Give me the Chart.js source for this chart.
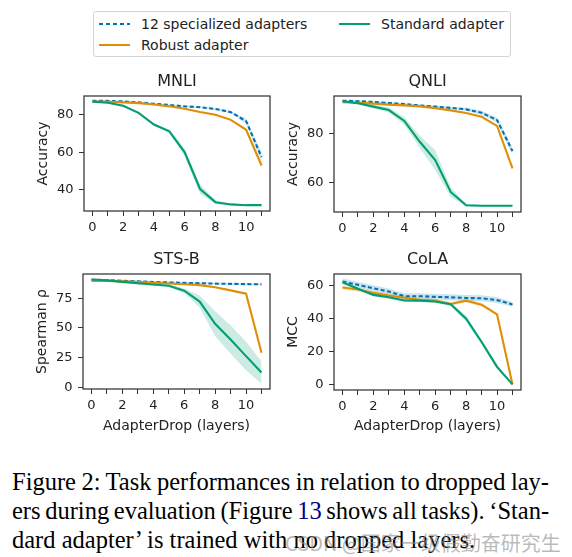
<!DOCTYPE html>
<html>
<head>
<meta charset="utf-8">
<script src="https://cdn.jsdelivr.net/npm/chart.js@4.4.1/dist/chart.umd.min.js"></script>
<style>
body { margin: 0; background: #fff; width: 572px; height: 557px; overflow: hidden; position: relative; font-family: "DejaVu Sans", sans-serif; }
canvas { position: absolute; }
#legend { position: absolute; left: 93px; top: 11px; width: 416px; height: 44px; border: 1px solid #d4d4d4; border-radius: 3px; font-size: 14px; color: #222; }
.item { position: absolute; height: 20px; line-height: 20px; width: 200px; }
.item .h { position: absolute; left: 0; top: 9px; width: 31px; height: 2px; }
.item span { position: absolute; left: 42px; white-space: nowrap; }
#caption { position: absolute; left: 12px; top: 467px; width: 537px; font-family: "Liberation Serif", "Times New Roman", serif; font-size: 24.5px; line-height: 29px; color: #000; }
#caption div { white-space: nowrap; }
.j { text-align: justify; text-align-last: justify; word-spacing: -1.5px; }
#wm { position: absolute; left: 285px; top: 528px; font-family: "Noto Sans CJK SC", sans-serif; font-size: 20px; color: rgba(140, 140, 140, 0.6); white-space: nowrap; }
</style>
</head>
<body>
<div id="legend"></div>
<canvas id="mnli"></canvas>
<canvas id="qnli"></canvas>
<canvas id="stsb"></canvas>
<canvas id="cola"></canvas>
<div id="caption">
  <div class="j">Figure 2: Task performances in relation to dropped lay-</div>
  <div class="j">ers during evaluation (Figure <span style="color:#00008b">13</span> shows all tasks). ‘Stan-</div>
  <div>dard adapter’ is trained with no dropped layers.</div>
</div>
<div id="wm">CSDN @国家一级假勤奋研究生</div>
<script>
// x axis: number of dropped adapter layers
const layers = [0, 1, 2, 3, 4, 5, 6, 7, 8, 9, 10, 11];
const seriesNames = ['12 specialized adapters', 'Robust adapter', 'Standard adapter'];

// MNLI (accuracy)
const mnliSpecialized = [87.5, 87.4, 87.1, 86.6, 85.9, 85.2, 84.5, 84.0, 83.1, 81.4, 76.6, 57.5];
const mnliRobust      = [87.0, 86.9, 86.6, 86.2, 85.5, 84.5, 83.2, 81.5, 80.0, 77.3, 72.0, 53.0];
const mnliStandard    = [87.0, 86.4, 84.8, 81.0, 74.8, 71.2, 60.0, 40.5, 33.5, 32.3, 31.9, 31.9];
const mnliSpecializedSpread = [0.3, 0.3, 0.3, 0.3, 0.3, 0.3, 0.4, 0.4, 0.5, 0.6, 1.2, 2.5];
const mnliRobustSpread      = [0.2, 0.2, 0.2, 0.2, 0.2, 0.2, 0.2, 0.3, 0.3, 0.3, 0.4, 0.5];
const mnliStandardSpread    = [0.3, 0.3, 0.5, 0.5, 0.5, 0.8, 2.0, 2.5, 1.0, 0.5, 0.3, 0.3];

// QNLI (accuracy)
const qnliSpecialized = [93.2, 93.0, 92.7, 92.3, 91.8, 91.3, 90.8, 90.3, 89.7, 88.3, 85.4, 72.8];
const qnliRobust      = [92.6, 92.4, 92.0, 91.6, 91.3, 90.9, 90.2, 89.3, 88.2, 86.7, 83.0, 65.8];
const qnliStandard    = [93.0, 92.2, 90.8, 89.4, 85.0, 76.6, 69.2, 56.3, 50.9, 50.7, 50.7, 50.7];
const qnliSpecializedSpread = [0.3, 0.3, 0.3, 0.3, 0.4, 0.4, 0.5, 0.5, 0.6, 0.8, 1.0, 1.5];
const qnliRobustSpread      = [0.2, 0.2, 0.2, 0.2, 0.2, 0.3, 0.3, 0.3, 0.3, 0.3, 0.4, 0.5];
const qnliStandardSpread    = [0.3, 0.5, 0.8, 1.0, 1.5, 2.5, 4.0, 2.0, 0.5, 0.3, 0.3, 0.3];

// STS-B (Spearman rho)
const stsbSpecialized = [90.6, 90.2, 89.7, 89.2, 88.7, 88.3, 87.9, 87.6, 87.3, 87.1, 86.9, 86.7];
const stsbRobust      = [89.6, 89.5, 89.2, 88.6, 88.0, 87.4, 86.8, 86.0, 84.2, 81.6, 78.8, 29.2];
const stsbStandard    = [90.8, 90.0, 88.8, 87.6, 86.6, 85.5, 81.3, 72.2, 53.5, 40.3, 26.3, 12.5];
const stsbSpecializedSpread = [0.8, 0.8, 0.8, 0.8, 0.8, 0.8, 0.8, 0.8, 0.8, 0.8, 0.8, 0.8];
const stsbRobustSpread      = [0.4, 0.4, 0.4, 0.4, 0.4, 0.4, 0.5, 0.5, 0.6, 0.6, 0.6, 0.8];
const stsbStandardSpread    = [0.5, 0.5, 0.8, 1.0, 1.0, 1.0, 2.0, 5.0, 10.5, 12.0, 12.0, 9.4];

// CoLA (MCC)
const colaSpecialized = [62.6, 60.6, 58.5, 56.5, 53.7, 53.7, 53.3, 53.0, 52.6, 52.4, 51.3, 48.7];
const colaRobust      = [59.0, 57.8, 55.7, 54.1, 52.7, 51.5, 51.0, 49.0, 51.0, 48.5, 42.6, 0.0];
const colaStandard    = [62.2, 58.2, 54.5, 53.0, 51.1, 51.0, 50.5, 48.8, 40.0, 25.8, 10.7, 0.0];
const colaSpecializedSpread = [1.8, 1.8, 1.8, 1.8, 1.8, 1.8, 1.8, 1.8, 1.8, 1.8, 1.8, 1.5];
const colaRobustSpread      = [1.2, 1.2, 1.2, 1.2, 1.2, 1.2, 1.2, 1.2, 1.2, 1.2, 1.0, 0.5];
const colaStandardSpread    = [0.8, 0.8, 0.8, 0.8, 0.8, 0.8, 0.8, 1.0, 2.0, 1.5, 1.5, 0.5];

// y tick labels per panel
const mnliTicks = [40, 60, 80];
const qnliTicks = [60, 80];
const stsbTicks = [0, 25, 50, 75];
const colaTicks = [0, 20, 40, 60];

const colors = ['#0173b2', '#de8f05', '#029e73'];
const bands = ['rgba(1,115,178,0.2)', 'rgba(222,143,5,0.2)', 'rgba(2,158,115,0.2)'];
const ink = '#222';
const axisColor = '#333';

Chart.defaults.font.family = '"DejaVu Sans", sans-serif';
Chart.defaults.color = ink;

// legend
const legend = document.getElementById('legend');
[[0, 5, 1.5], [1, 5, 23], [2, 245, 1.5]].forEach(([i, left, top]) => {
  const el = document.createElement('div');
  el.className = 'item';
  el.style.left = left + 'px';
  el.style.top = top + 'px';
  const h = document.createElement('div');
  h.className = 'h';
  h.style.background = i === 0
    ? `repeating-linear-gradient(90deg, ${colors[0]} 0 4px, transparent 4px 7px)`
    : colors[i];
  const t = document.createElement('span');
  t.textContent = seriesNames[i];
  el.appendChild(h);
  el.appendChild(t);
  legend.appendChild(el);
});

const frame = {
  id: 'frame',
  afterDatasetsDraw(chart) {
    const { ctx, chartArea: a } = chart;
    ctx.save();
    ctx.strokeStyle = axisColor;
    ctx.lineWidth = 1.25;
    ctx.strokeRect(a.left, a.top, a.right - a.left, a.bottom - a.top);
    ctx.restore();
  }
};

function panel(id, title, yTitle, yMin, yMax, yTicks, lines, spreads, box, bottomRow) {
  const canvas = document.getElementById(id);
  const cLeft = box.left - 84;
  const cTop = box.top - 40;
  const cBottom = bottomRow ? 437 : 240;
  const cRight = box.right + 16;
  canvas.width = cRight - cLeft;
  canvas.height = cBottom - cTop;
  canvas.style.left = cLeft + 'px';
  canvas.style.top = cTop + 'px';

  const datasets = [];
  lines.forEach((vals, i) => {
    const sp = spreads[i];
    datasets.push({ data: layers.map((x, k) => ({ x, y: vals[k] + sp[k] })), borderColor: 'transparent', borderWidth: 0, pointRadius: 0, fill: false, order: 10 });
    datasets.push({ data: layers.map((x, k) => ({ x, y: vals[k] - sp[k] })), borderColor: 'transparent', borderWidth: 0, pointRadius: 0, fill: '-1', backgroundColor: bands[i], order: 10 });
  });
  lines.forEach((vals, i) => {
    datasets.push({
      data: layers.map((x, k) => ({ x, y: vals[k] })),
      borderColor: colors[i],
      borderWidth: 2.1,
      borderDash: i === 0 ? [4, 2.5] : [],
      pointRadius: 0,
      tension: 0,
      fill: false,
      order: 3 - i
    });
  });

  new Chart(canvas, {
    type: 'line',
    data: { datasets },
    plugins: [frame],
    options: {
      responsive: false,
      animation: false,
      devicePixelRatio: 1,
      layout: { padding: { left: 0, right: 16, top: 0, bottom: 0 } },
      plugins: {
        legend: { display: false },
        tooltip: { enabled: false },
        title: { display: true, text: title, fullSize: false, color: ink, font: { size: 16, weight: 'normal' }, padding: { top: 15.9, bottom: 4.9 } }
      },
      scales: {
        x: {
          type: 'linear',
          min: -0.55,
          max: 11.55,
          afterBuildTicks: s => { s.ticks = layers.map(v => ({ value: v })); },
          afterFit: s => { s.height = cBottom - box.bottom; },
          ticks: { autoSkip: false, maxRotation: 0, padding: 3.5, font: { size: 13 }, color: ink, callback: v => (v % 2 === 0 ? String(v) : '') },
          grid: { drawOnChartArea: false, drawTicks: true, tickLength: 5, color: axisColor },
          border: { display: false },
          title: { display: bottomRow, text: 'AdapterDrop (layers)', color: ink, font: { size: 14 }, padding: { top: 0, bottom: 2 } }
        },
        y: {
          min: yMin,
          max: yMax,
          afterBuildTicks: s => { s.ticks = yTicks.map(v => ({ value: v })); },
          afterFit: s => { s.width = 84; },
          ticks: { padding: 5.5, font: { size: 13 }, color: ink },
          grid: { drawOnChartArea: false, drawTicks: true, tickLength: 5, color: axisColor },
          border: { display: false },
          title: { display: true, text: yTitle, color: ink, font: { size: 14 }, padding: { top: 35, bottom: 0 } }
        }
      }
    }
  });
}

panel('mnli', 'MNLI', 'Accuracy', 28.8, 90.0, mnliTicks,
  [mnliSpecialized, mnliRobust, mnliStandard],
  [mnliSpecializedSpread, mnliRobustSpread, mnliStandardSpread],
  { left: 84, top: 96, right: 270, bottom: 211 }, false);
panel('qnli', 'QNLI', 'Accuracy', 48.2, 95.1, qnliTicks,
  [qnliSpecialized, qnliRobust, qnliStandard],
  [qnliSpecializedSpread, qnliRobustSpread, qnliStandardSpread],
  { left: 334, top: 96, right: 521, bottom: 212 }, false);
panel('stsb', 'STS-B', 'Spearman ρ', -1.4, 95.4, stsbTicks,
  [stsbSpecialized, stsbRobust, stsbStandard],
  [stsbSpecializedSpread, stsbRobustSpread, stsbStandardSpread],
  { left: 83, top: 274, right: 270, bottom: 389 }, true);
panel('cola', 'CoLA', 'MCC', -3.4, 67.2, colaTicks,
  [colaSpecialized, colaRobust, colaStandard],
  [colaSpecializedSpread, colaRobustSpread, colaStandardSpread],
  { left: 334, top: 274, right: 521, bottom: 390 }, true);
</script>
</body>
</html>
